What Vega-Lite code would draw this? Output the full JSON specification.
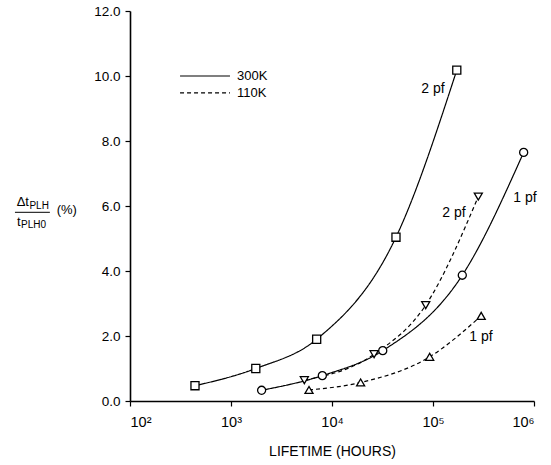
{
  "$schema": "https://vega.github.io/schema/vega-lite/v6.json",
  "width": 404,
  "height": 390,
  "autosize": "none",
  "padding": {"left": 130, "top": 11, "right": 17, "bottom": 64},
  "background": "white",
  "config": {
    "font": "Liberation Sans",
    "view": {"stroke": null},
    "axis": {"grid": false, "domainColor": "black", "domainWidth": 1.6, "tickColor": "black", "tickWidth": 1.2, "tickSize": 5, "labelColor": "black", "labelFontSize": 13.5, "titleColor": "black", "titleFontWeight": "normal"}
  },
  "datasets": {
    "points": [
      {"curve": "300K 2pf", "temp": "300K", "hours": 440, "pct": 0.47},
      {"curve": "300K 2pf", "temp": "300K", "hours": 1760, "pct": 1.0},
      {"curve": "300K 2pf", "temp": "300K", "hours": 7050, "pct": 1.9},
      {"curve": "300K 2pf", "temp": "300K", "hours": 43000, "pct": 5.04},
      {"curve": "300K 2pf", "temp": "300K", "hours": 172000, "pct": 10.18},
      {"curve": "300K 1pf", "temp": "300K", "hours": 2010, "pct": 0.33},
      {"curve": "300K 1pf", "temp": "300K", "hours": 8020, "pct": 0.78},
      {"curve": "300K 1pf", "temp": "300K", "hours": 31800, "pct": 1.55},
      {"curve": "300K 1pf", "temp": "300K", "hours": 195000, "pct": 3.87},
      {"curve": "300K 1pf", "temp": "300K", "hours": 790000, "pct": 7.65},
      {"curve": "110K 2pf", "temp": "110K", "hours": 5320, "pct": 0.64},
      {"curve": "110K 2pf", "temp": "110K", "hours": 26100, "pct": 1.44},
      {"curve": "110K 2pf", "temp": "110K", "hours": 84700, "pct": 2.95},
      {"curve": "110K 2pf", "temp": "110K", "hours": 281000, "pct": 6.29},
      {"curve": "110K 1pf", "temp": "110K", "hours": 5920, "pct": 0.34},
      {"curve": "110K 1pf", "temp": "110K", "hours": 19200, "pct": 0.57},
      {"curve": "110K 1pf", "temp": "110K", "hours": 92700, "pct": 1.36},
      {"curve": "110K 1pf", "temp": "110K", "hours": 300000, "pct": 2.62}
    ],
    "curveLabels": [
      {"label": "2 pf", "hours": 100000, "pct": 9.6},
      {"label": "1 pf", "hours": 815000, "pct": 6.25},
      {"label": "2 pf", "hours": 161000, "pct": 5.78},
      {"label": "1 pf", "hours": 299000, "pct": 1.97}
    ],
    "legend": [
      {"temp": "300K", "from": 313, "to": 977, "pct": 10.0, "textAt": 1146},
      {"temp": "110K", "from": 313, "to": 977, "pct": 9.48, "textAt": 1146}
    ]
  },
  "layer": [
    {
      "data": {"name": "points"},
      "mark": {"type": "line", "interpolate": "monotone", "color": "black", "strokeWidth": 1.2},
      "encoding": {
        "x": {"field": "hours", "type": "quantitative", "scale": {"type": "log", "domain": [100, 1000000]},
          "axis": {"values": [100, 1000, 10000, 100000, 1000000], "labelExpr": "datum.value == 100 ? '10²' : datum.value == 1000 ? '10³' : datum.value == 10000 ? '10⁴' : datum.value == 100000 ? '10⁵' : '10⁶'", "labelFontSize": 14.5, "labelPadding": 9, "title": "LIFETIME (HOURS)", "titleFontSize": 14, "titlePadding": 16}},
        "y": {"field": "pct", "type": "quantitative", "scale": {"domain": [0, 12]},
          "axis": {"values": [0, 2, 4, 6, 8, 10, 12], "format": ".1f", "labelPadding": 5, "title": null}},
        "detail": {"field": "curve"},
        "strokeDash": {"field": "temp", "type": "nominal", "scale": {"domain": ["300K", "110K"], "range": [[1, 0], [4, 3]]}, "legend": null}
      }
    },
    {
      "data": {"name": "points"},
      "mark": {"type": "point", "filled": true, "fill": "white", "stroke": "black", "strokeWidth": 1.3, "opacity": 1},
      "encoding": {
        "x": {"field": "hours", "type": "quantitative"},
        "y": {"field": "pct", "type": "quantitative"},
        "shape": {"field": "curve", "type": "nominal", "scale": {"domain": ["300K 2pf", "300K 1pf", "110K 2pf", "110K 1pf"], "range": ["square", "circle", "triangle-down", "triangle-up"]}, "legend": null},
        "size": {"value": 65}
      }
    },
    {
      "data": {"name": "curveLabels"},
      "mark": {"type": "text", "fontSize": 14, "color": "black", "align": "center", "baseline": "middle"},
      "encoding": {
        "x": {"field": "hours", "type": "quantitative"},
        "y": {"field": "pct", "type": "quantitative"},
        "text": {"field": "label"}
      }
    },
    {
      "data": {"name": "legend"},
      "mark": {"type": "rule", "color": "black", "strokeWidth": 1.2},
      "encoding": {
        "x": {"field": "from", "type": "quantitative"},
        "x2": {"field": "to"},
        "y": {"field": "pct", "type": "quantitative"},
        "strokeDash": {"field": "temp", "type": "nominal", "legend": null}
      }
    },
    {
      "data": {"name": "legend"},
      "mark": {"type": "text", "fontSize": 13, "color": "black", "align": "left", "baseline": "middle"},
      "encoding": {
        "x": {"field": "textAt", "type": "quantitative"},
        "y": {"field": "pct", "type": "quantitative"},
        "text": {"field": "temp"}
      }
    },
    {
      "data": {"values": [{"t": "Δt", "hx": 7.55, "py": 6.0}, {"t": "t", "hx": 7.6, "py": 5.39}, {"t": "(%)", "hx": 18.8, "py": 5.76}]},
      "mark": {"type": "text", "fontSize": 13, "color": "black", "align": "left", "baseline": "alphabetic"},
      "encoding": {
        "x": {"field": "hx", "type": "quantitative"},
        "y": {"field": "py", "type": "quantitative"},
        "text": {"field": "t"}
      }
    },
    {
      "data": {"values": [{"t": "PLH", "hx": 10.1, "py": 5.91}, {"t": "PLH0", "hx": 8.34, "py": 5.32}]},
      "mark": {"type": "text", "fontSize": 10, "color": "black", "align": "left", "baseline": "alphabetic"},
      "encoding": {
        "x": {"field": "hx", "type": "quantitative"},
        "y": {"field": "py", "type": "quantitative"},
        "text": {"field": "t"}
      }
    },
    {
      "data": {"values": [{"from": 7.26, "to": 16.1, "py": 5.806}]},
      "mark": {"type": "rule", "color": "black", "strokeWidth": 1},
      "encoding": {
        "x": {"field": "from", "type": "quantitative"},
        "x2": {"field": "to"},
        "y": {"field": "py", "type": "quantitative"}
      }
    }
  ]
}
